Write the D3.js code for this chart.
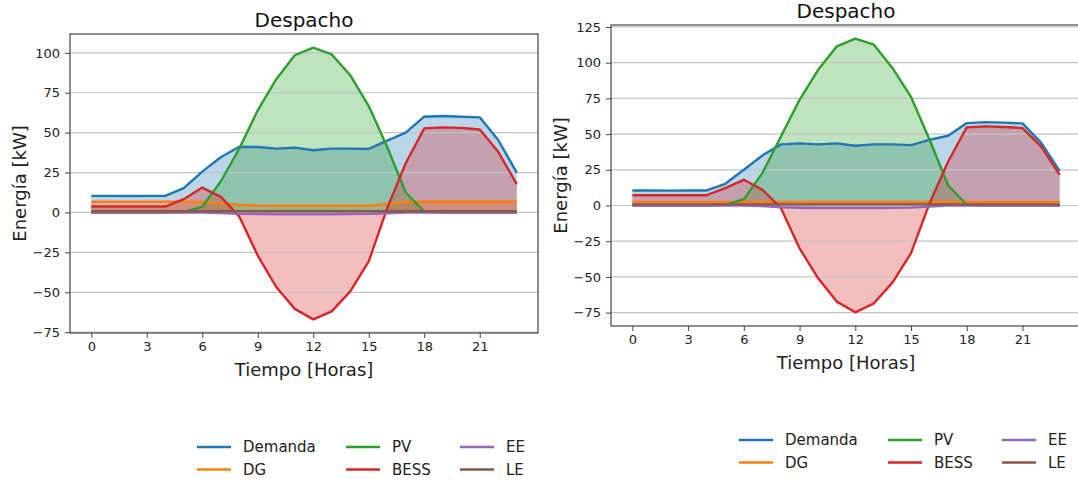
<!DOCTYPE html>
<html>
<head>
<meta charset="utf-8">
<script src="https://cdn.jsdelivr.net/npm/d3@7"></script>
<style>
  body { margin: 0; background: #fff; }
  svg { font-family: "DejaVu Sans", sans-serif; display: block; }
</style>
</head>
<body>
<svg id="chart" width="1078" height="486"></svg>
<script>
// horas del día
var horas = d3.range(0, 24);
var xTicks = [0, 3, 6, 9, 12, 15, 18, 21];
var series = ["Demanda", "DG", "PV", "BESS", "EE", "LE"];
var colores = ["#1f77b4", "#ff7f0e", "#2ca02c", "#d62728", "#9467bd", "#8c564b"];

// caso 1 (izquierda)
var demanda1 = [10.4,10.4,10.3,10.4,10.4,15.2,25.6,34.6,41.2,41.0,40.0,40.6,39.0,40.0,40.0,39.8,45.0,50.0,60.0,60.4,60.0,59.6,45.4,25.0];
var dg1      = [6.7,6.7,6.7,6.7,6.7,6.7,6.6,5.8,4.8,4.3,4.2,4.2,4.2,4.2,4.2,4.3,5.3,6.6,6.9,6.9,6.9,6.9,6.9,6.9];
var pv1      = [0,0,0,0,0,0.3,3.7,19.4,40.0,64.0,83.5,98.5,103.3,99.0,86.0,66.7,41.0,12.5,0.5,0,0,0,0,0];
var bess1    = [3.7,3.7,3.7,3.7,3.7,8.3,15.6,9.8,-2.5,-27.0,-46.7,-60.4,-67.0,-62.0,-49.4,-30.6,2.7,30.8,52.7,53.3,53.0,52.0,38.0,17.7];
var ee1      = [0,0,0,0,0,0,0,-0.3,-0.8,-1.0,-1.1,-1.1,-1.1,-1.1,-1.0,-0.9,-0.5,0,0,0,0,0,0,0];
var le1      = [0.8,0.8,0.8,0.8,0.8,0.8,0.8,0.8,0.8,0.8,0.8,0.8,0.8,0.8,0.8,0.8,0.8,0.8,0.8,0.8,0.8,0.8,0.8,0.8];

// caso 2 (derecha)
var demanda2 = [10.5,10.5,10.4,10.5,10.5,15.2,25.0,35.0,42.8,43.5,42.8,43.5,41.8,42.8,42.8,42.3,46.0,48.8,57.7,58.4,58.0,57.5,44.0,24.3];
var dg2      = [2.5,2.5,2.5,2.5,2.5,2.5,2.5,2.5,2.5,2.5,2.5,2.5,2.5,2.5,2.5,2.5,2.5,2.5,2.5,2.5,2.5,2.5,2.5,2.5];
var pv2      = [0,0,0,0,0,0.3,4.4,22.7,48.4,74.0,95.0,111.4,116.8,112.6,96.3,76.0,46.0,14.0,0.5,0,0,0,0,0];
var bess2    = [7.2,7.2,7.2,7.2,7.2,12.1,18.0,11.0,-1.9,-30.0,-51.0,-67.3,-74.8,-68.5,-54.0,-33.4,1.6,30.8,54.7,55.4,55.0,54.2,41.4,21.5];
var ee2      = [0,0,0,0,0,0,0,-0.4,-1.2,-1.6,-1.8,-1.8,-1.8,-1.8,-1.7,-1.5,-0.7,0,0,0,0,0,0,0];
var le2      = [0.8,0.8,0.8,0.8,0.8,0.8,0.8,0.8,0.8,0.8,0.8,0.8,0.8,0.8,0.8,0.8,0.8,0.8,0.8,0.8,0.8,0.8,0.8,0.8];

var paneles = [
  { ox: 70,  oy: 34, w: 468, h: 299, datos: [demanda1, dg1, pv1, bess1, ee1, le1], lx: 197, ly: 447 },
  { ox: 611, oy: 25, w: 470, h: 301, datos: [demanda2, dg2, pv2, bess2, ee2, le2], lx: 739, ly: 440 }
];

var svg = d3.select("#chart");
var fmt = function(d) { return d < 0 ? "\u2212" + Math.abs(d) : String(d); };

paneles.forEach(function(p) {
  // márgenes de 5% como matplotlib
  var todos = d3.merge(p.datos);
  var ymin = d3.min(todos), ymax = d3.max(todos), r = ymax - ymin;
  var x = d3.scaleLinear().domain([-1.15, 24.15]).range([0, p.w]);
  var y = d3.scaleLinear().domain([ymin - 0.05 * r, ymax + 0.05 * r]).range([p.h, 0]);
  var yTicks = d3.range(-75, 150, 25).filter(function(t) { return t >= y.domain()[0] && t <= y.domain()[1]; });

  var g = svg.append("g").attr("transform", "translate(" + p.ox + "," + p.oy + ")");

  // rellenos
  var area = d3.area().x(function(d, i) { return x(horas[i]); }).y0(y(0)).y1(function(d) { return y(d); });
  p.datos.forEach(function(s, k) {
    g.append("path").datum(s).attr("d", area)
      .attr("fill", colores[k]).attr("fill-opacity", 0.3);
  });

  // grilla horizontal
  g.selectAll(".grid").data(yTicks).enter().append("line")
    .attr("x1", 0).attr("x2", p.w)
    .attr("y1", function(d) { return y(d); }).attr("y2", function(d) { return y(d); })
    .attr("stroke", "#c4c4c4").attr("stroke-width", 1.2);

  // líneas
  var linea = d3.line().x(function(d, i) { return x(horas[i]); }).y(function(d) { return y(d); });
  p.datos.forEach(function(s, k) {
    g.append("path").datum(s).attr("d", linea)
      .attr("fill", "none").attr("stroke", colores[k]).attr("stroke-width", 2.4)
      .attr("stroke-linejoin", "round");
  });

  // marco
  g.append("rect").attr("width", p.w).attr("height", p.h)
    .attr("fill", "none").attr("stroke", "#444").attr("stroke-width", 1.2);

  // ejes
  var ax = g.append("g").attr("transform", "translate(0," + p.h + ")")
    .call(d3.axisBottom(x).tickValues(xTicks).tickSize(5).tickPadding(4));
  var ay = g.append("g")
    .call(d3.axisLeft(y).tickValues(yTicks).tickFormat(fmt).tickSize(5).tickPadding(5));
  [ax, ay].forEach(function(a) {
    a.select(".domain").remove();
    a.selectAll("line").attr("stroke", "#444");
    a.selectAll("text").attr("font-size", "13px").attr("fill", "#222")
      .attr("font-family", "DejaVu Sans, sans-serif");
  });

  // títulos
  g.append("text").attr("x", p.w / 2).attr("y", -7).attr("text-anchor", "middle")
    .attr("font-size", "20px").attr("fill", "#111").text("Despacho");
  g.append("text").attr("x", p.w / 2).attr("y", p.h + 43).attr("text-anchor", "middle")
    .attr("font-size", "18px").attr("fill", "#222").text("Tiempo [Horas]");
  g.append("text").attr("transform", "translate(-44," + (p.h / 2) + ") rotate(-90)")
    .attr("text-anchor", "middle").attr("font-size", "18px").attr("fill", "#222")
    .text("Energía [kW]");

  // leyenda (3 columnas)
  var leg = svg.append("g").attr("transform", "translate(" + p.lx + "," + p.ly + ")");
  series.forEach(function(nombre, k) {
    var col = Math.floor(k / 2), fila = k % 2;
    var lg = leg.append("g").attr("transform", "translate(" + [0, 149, 263][col] + "," + fila * 22.5 + ")");
    lg.append("line").attr("x1", 0).attr("x2", 34).attr("stroke", colores[k]).attr("stroke-width", 2.4);
    lg.append("text").attr("x", 46).attr("dy", "0.36em").attr("font-size", "15px")
      .attr("fill", "#222").text(nombre);
  });
});
</script>
</body>
</html>
